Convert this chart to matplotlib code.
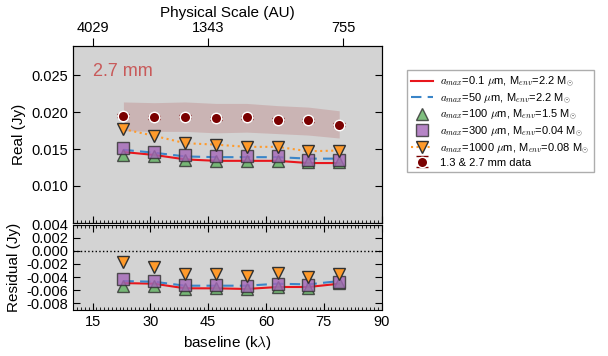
import numpy as np
import matplotlib
matplotlib.use('Agg')
import matplotlib.pyplot as plt
from matplotlib.ticker import MultipleLocator

plt.rcParams['font.family'] = ['Liberation Sans', 'DejaVu Sans']
plt.rcParams['mathtext.fontset'] = 'cm'
plt.rcParams['font.size'] = 10

# baselines (klambda)
uv = [23, 31, 39, 47, 55, 63, 71, 79]

# observed real part (Jy) and calibration band
data_re = [0.0195, 0.0193, 0.0194, 0.0192, 0.0193, 0.0190, 0.0189, 0.0183]
data_err = [0.0002, 0.0002, 0.0002, 0.0002, 0.0002, 0.0002, 0.0002, 0.0002]
band_hi = [0.0214, 0.0213, 0.0214, 0.0212, 0.0212, 0.0209, 0.0207, 0.0202]
band_lo = [0.0175, 0.0174, 0.0174, 0.0172, 0.0173, 0.0171, 0.0169, 0.0165]

# models, real part
m01 = [0.0146, 0.0142, 0.0136, 0.0134, 0.0134, 0.0134, 0.0131, 0.0131]
m50 = [0.0149, 0.0145, 0.0140, 0.0139, 0.0139, 0.0139, 0.0137, 0.0137]
m100 = [0.0142, 0.0140, 0.0135, 0.0134, 0.0134, 0.0134, 0.0132, 0.0132]
m300 = [0.0152, 0.0146, 0.0142, 0.0141, 0.0140, 0.0140, 0.0135, 0.0135]
m1000 = [0.0177, 0.0168, 0.0158, 0.0156, 0.0153, 0.0153, 0.0147, 0.0148]

# residuals
r01 = [-0.0049, -0.0050, -0.0057, -0.0057, -0.0058, -0.0055, -0.0055, -0.0050]
r50 = [-0.0046, -0.0047, -0.0053, -0.0053, -0.0053, -0.0050, -0.0051, -0.0046]
r100 = [-0.0053, -0.0054, -0.0058, -0.0057, -0.0058, -0.0055, -0.0056, -0.0049]
r300 = [-0.0043, -0.0046, -0.0052, -0.0052, -0.0053, -0.0050, -0.0052, -0.0047]
r1000 = [-0.0017, -0.0025, -0.0035, -0.0035, -0.0039, -0.0034, -0.0040, -0.0035]

au_ticks = [4029, 1343, 755]
au_const = 60435.0

labels = [r'$a_{max}$=0.1 $\mu$m, M$_{env}$=2.2 M$_{\odot}$',
          r'$a_{max}$=50 $\mu$m, M$_{env}$=2.2 M$_{\odot}$',
          r'$a_{max}$=100 $\mu$m, M$_{env}$=1.5 M$_{\odot}$',
          r'$a_{max}$=300 $\mu$m, M$_{env}$=0.04 M$_{\odot}$',
          r'$a_{max}$=1000 $\mu$m, M$_{env}$=0.08 M$_{\odot}$',
          '1.3 & 2.7 mm data']

c_red = '#e8161c'
c_blue = '#3a85c8'
c_green = '#5fb05f'
c_purple = '#a467b8'
c_orange = '#ff9a2a'
c_data = '#7a0000'
bg = '#d3d3d3'

fig = plt.figure(figsize=(6.08, 3.56), dpi=100)
ax = fig.add_axes([0.1206, 0.3745, 0.507, 0.4963])
axr = fig.add_axes([0.1206, 0.1292, 0.507, 0.2400], sharex=ax)

mk = dict(ms=8, mec='#303030', alpha=0.8, ls='none')

ax.fill_between(uv, band_lo, band_hi, color='brown', alpha=0.18, lw=0)
h1, = ax.plot(uv, m01, color=c_red, lw=1.5)
h2, = ax.plot(uv, m50, color=c_blue, lw=1.5, ls=(0, (5, 3)))
h3, = ax.plot(uv, m100, marker='^', mfc=c_green, **mk)
h4, = ax.plot(uv, m300, marker='s', mfc=c_purple, **mk)
h5, = ax.plot(uv, m1000, marker='v', mfc=c_orange, ms=8, mec='#303030',
              color=c_orange, ls=':', lw=1.5)
h6 = ax.errorbar(uv, data_re, yerr=data_err, fmt='o', color=c_data, ms=7.5,
                 mec='white', mew=1, capsize=4, elinewidth=1)
ax.text(0.065, 0.855, '2.7 mm', transform=ax.transAxes, color='#c85a5a',
        fontsize=13, va='center')

axr.axhline(0, color='k', ls=':', lw=1)
axr.plot(uv, r01, color=c_red, lw=1.5)
axr.plot(uv, r50, color=c_blue, lw=1.5, ls=(0, (5, 3)))
axr.plot(uv, r100, marker='^', mfc=c_green, **mk)
axr.plot(uv, r300, marker='s', mfc=c_purple, **mk)
axr.plot(uv, r1000, marker='v', mfc=c_orange, ms=8, mec='#303030', ls='none')

for a in (ax, axr):
    a.set_facecolor(bg)
    a.tick_params(which='both', direction='in', left=True, right=True,
                  top=True, bottom=True, labelsize=10.5)
    a.tick_params(which='major', length=5)
    a.tick_params(which='minor', length=2)
    a.xaxis.set_minor_locator(MultipleLocator(1))

ax.set_xlim(10, 90)
ax.set_ylim(0.005, 0.029)
ax.set_yticks([0.010, 0.015, 0.020, 0.025])
ax.set_yticklabels(['0.010', '0.015', '0.020', '0.025'])
ax.tick_params(which='major', top=False, bottom=False, labelbottom=False)
ax.tick_params(which='minor', top=False)
ax.set_ylabel('Real (Jy)', fontsize=11)

axr.set_ylim(-0.009, 0.004)
yt = [0.004, 0.002, 0.0, -0.002, -0.004, -0.006, -0.008]
axr.set_yticks(yt)
axr.set_yticklabels(['%.3f' % v if v != 0 else '0.000' for v in yt])
axr.set_xticks([15, 30, 45, 60, 75, 90])
axr.set_ylabel('Residual (Jy)', fontsize=11)
axr.set_xlabel(r'baseline (k$\lambda$)', fontsize=11)

top = ax.twiny()
top.set_xlim(ax.get_xlim())
top.set_xticks([au_const / v for v in au_ticks])
top.set_xticklabels([str(v) for v in au_ticks])
top.tick_params(direction='out', length=6, pad=2, labelsize=10.5)
top.set_xlabel('Physical Scale (AU)', fontsize=11, labelpad=3)

fig.legend([h1, h2, h3, h4, h5, h6], labels, loc='upper left',
           bbox_to_anchor=(0.669, 0.803), borderaxespad=0, fontsize=8,
           fancybox=False, edgecolor='#999999', numpoints=1,
           handlelength=2.0, handletextpad=0.6, borderpad=0.4,
           labelspacing=0.2)

fig.savefig('out.png', dpi=100)
